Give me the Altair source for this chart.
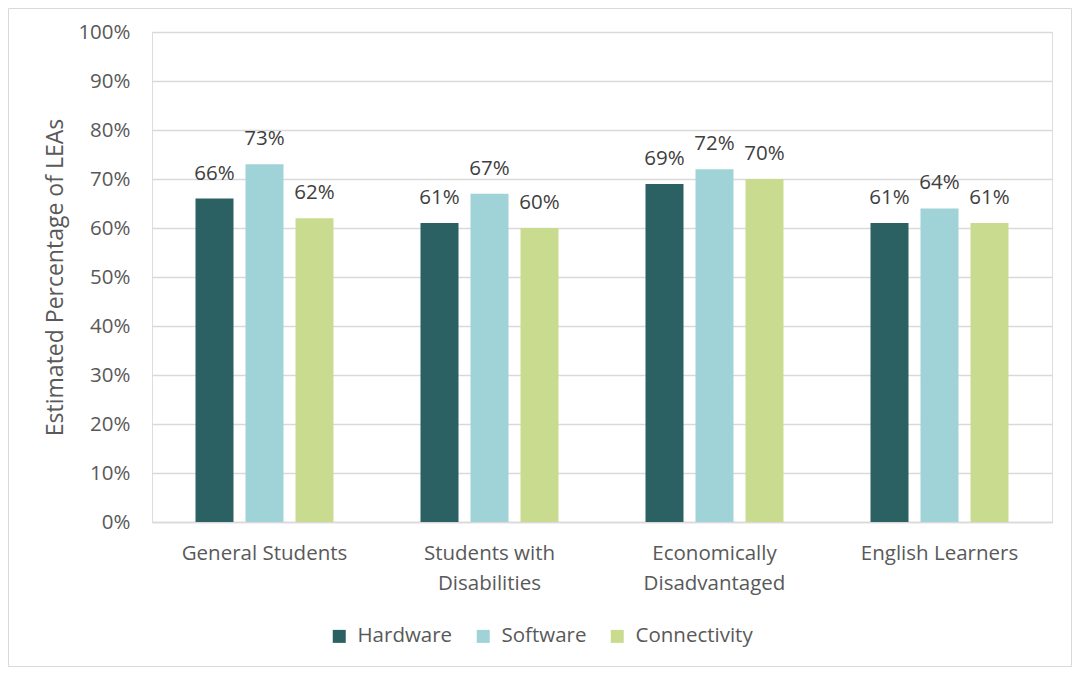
import altair as alt
import pandas as pd

groups = ["General Students", "Students with\nDisabilities", "Economically\nDisadvantaged", "English Learners"]
series = ["Hardware", "Software", "Connectivity"]
hardware = [66, 61, 69, 61]
software = [73, 67, 72, 64]
connectivity = [62, 60, 70, 61]
colors = ["#2C6163", "#9FD3D8", "#C9DB8F"]

rows = []
for i, g in enumerate(groups):
    for s, vals in zip(series, [hardware, software, connectivity]):
        rows.append({"group": g, "series": s, "value": vals[i]})
df = pd.DataFrame(rows)

FONT = "Open Sans"
FS = 20.5

base = alt.Chart(df).encode(
    x=alt.X("group:N", sort=groups, title=None,
            scale=alt.Scale(paddingInner=0, paddingOuter=0),
            axis=alt.Axis(labelExpr="split(datum.label, '\\n')", labelFont=FONT,
                          labelFontSize=FS, labelColor="#595959", labelPadding=21,
                          labelLineHeight=30, ticks=False, domainColor="#d9d9d9",
                          domainWidth=1.5, labelAngle=0, labelBaseline="top")),
    xOffset=alt.XOffset("series:N", sort=series,
                        scale=alt.Scale(paddingInner=0.24, paddingOuter=0.87)),
)

bars = base.mark_bar().encode(
    y=alt.Y("value:Q", title="Estimated Percentage of LEAs",
            scale=alt.Scale(domain=[0, 100]),
            axis=alt.Axis(values=list(range(0, 101, 10)), labelExpr="datum.value + '%'",
                          labelFont=FONT, labelFontSize=FS, labelColor="#595959",
                          labelPadding=22, ticks=False, domain=False,
                          gridColor="#d9d9d9", gridWidth=1.3,
                          titleFont=FONT, titleFontSize=23, titleFontWeight="normal",
                          titleColor="#595959", titlePadding=10)),
    color=alt.Color("series:N", sort=series,
                    scale=alt.Scale(domain=series, range=colors),
                    legend=alt.Legend(title=None, orient="none", direction="horizontal",
                                      legendX=177, legendY=594, symbolType="square",
                                      symbolSize=169, symbolStrokeWidth=0,
                                      labelFont=FONT, labelFontSize=FS, labelColor="#595959",
                                      labelOffset=8, columnPadding=20)),
)

text = base.mark_text(dy=-25, font=FONT, fontSize=FS, color="#404040").encode(
    y=alt.Y("value:Q"),
    text=alt.Text("label:N"),
).transform_calculate(label="datum.value + '%'")

border = alt.Chart(pd.DataFrame({"a": [0]})).mark_rect(
    fill=None, stroke="#d9d9d9", strokeWidth=1
).encode(x=alt.value(-143.5), x2=alt.value(919.5), y=alt.value(-23.5), y2=alt.value(634.5))

chart = alt.layer(border, bars, text).properties(
    width=900, height=490,
    autosize=alt.AutoSizeParams(type="none"),
    padding={"left": 144, "top": 24, "right": 20, "bottom": 145},
).configure_view(stroke=None).configure(background="white")

chart.save("out.html", embed_options={"renderer": "svg", "actions": False})
